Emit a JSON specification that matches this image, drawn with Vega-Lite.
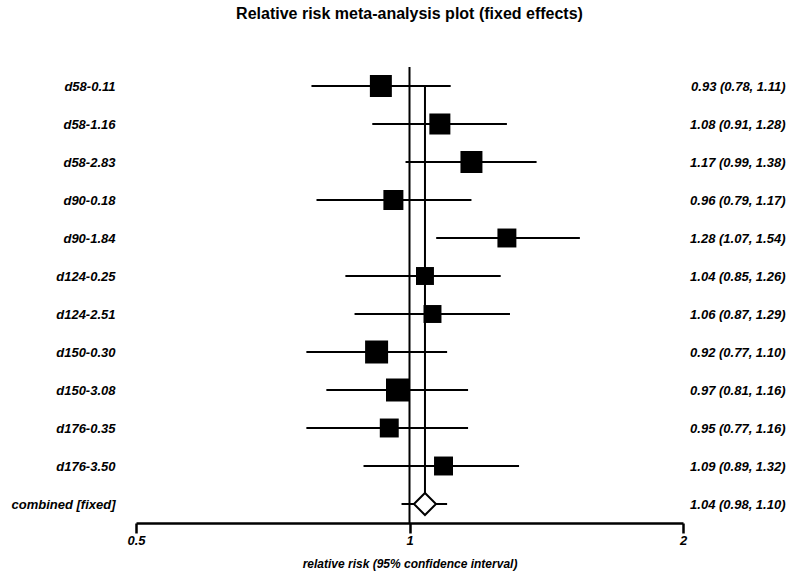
{
  "$schema": "https://vega.github.io/schema/vega-lite/v6.json",
  "width": 547,
  "height": 456,
  "autosize": {"type": "none"},
  "padding": {"left": 136, "top": 67, "right": 104, "bottom": 53},
  "background": "white",
  "title": {
    "text": "Relative risk meta-analysis plot (fixed effects)",
    "font": "Liberation Sans",
    "fontSize": 16,
    "fontWeight": "bold",
    "color": "black",
    "anchor": "middle",
    "baseline": "alphabetic",
    "offset": 31
  },
  "config": {"view": {"stroke": null}},
  "data": {
    "values": [
      {"order": 1, "study": "d58-0.11", "rr": 0.93, "lo": 0.78, "hi": 1.11, "ci": "0.93 (0.78, 1.11)", "weight": 10.5, "kind": "study"},
      {"order": 2, "study": "d58-1.16", "rr": 1.08, "lo": 0.91, "hi": 1.28, "ci": "1.08 (0.91, 1.28)", "weight": 9.6, "kind": "study"},
      {"order": 3, "study": "d58-2.83", "rr": 1.17, "lo": 0.99, "hi": 1.38, "ci": "1.17 (0.99, 1.38)", "weight": 10.5, "kind": "study"},
      {"order": 4, "study": "d90-0.18", "rr": 0.96, "lo": 0.79, "hi": 1.17, "ci": "0.96 (0.79, 1.17)", "weight": 8.7, "kind": "study"},
      {"order": 5, "study": "d90-1.84", "rr": 1.28, "lo": 1.07, "hi": 1.54, "ci": "1.28 (1.07, 1.54)", "weight": 7.8, "kind": "study"},
      {"order": 6, "study": "d124-0.25", "rr": 1.04, "lo": 0.85, "hi": 1.26, "ci": "1.04 (0.85, 1.26)", "weight": 7.0, "kind": "study"},
      {"order": 7, "study": "d124-2.51", "rr": 1.06, "lo": 0.87, "hi": 1.29, "ci": "1.06 (0.87, 1.29)", "weight": 7.0, "kind": "study"},
      {"order": 8, "study": "d150-0.30", "rr": 0.92, "lo": 0.77, "hi": 1.10, "ci": "0.92 (0.77, 1.10)", "weight": 11.5, "kind": "study"},
      {"order": 9, "study": "d150-3.08", "rr": 0.97, "lo": 0.81, "hi": 1.16, "ci": "0.97 (0.81, 1.16)", "weight": 11.5, "kind": "study"},
      {"order": 10, "study": "d176-0.35", "rr": 0.95, "lo": 0.77, "hi": 1.16, "ci": "0.95 (0.77, 1.16)", "weight": 7.8, "kind": "study"},
      {"order": 11, "study": "d176-3.50", "rr": 1.09, "lo": 0.89, "hi": 1.32, "ci": "1.09 (0.89, 1.32)", "weight": 7.8, "kind": "study"},
      {"order": 12, "study": "combined [fixed]", "rr": 1.04, "lo": 0.98, "hi": 1.10, "ci": "1.04 (0.98, 1.10)", "weight": 100, "kind": "pooled"}
    ]
  },
  "layer": [
    {
      "layer": [
        {
          "data": {"values": [{"ref": 1}]},
          "mark": {"type": "rule", "color": "black", "strokeWidth": 2},
          "encoding": {
            "x": {"field": "ref", "type": "quantitative", "scale": {"type": "log", "domain": [0.5, 2], "nice": false}}
          }
        },
        {
          "mark": {"type": "line", "color": "black", "strokeWidth": 2},
          "encoding": {
            "x": {"datum": 1.04, "type": "quantitative", "scale": {"type": "log", "domain": [0.5, 2], "nice": false}},
            "y": {"field": "study", "type": "nominal", "sort": {"field": "order", "op": "min"}},
            "order": {"field": "order", "type": "quantitative"}
          }
        },
        {
          "mark": {"type": "rule", "color": "black", "strokeWidth": 2},
          "encoding": {
            "x": {"field": "lo", "type": "quantitative", "scale": {"type": "log", "domain": [0.5, 2], "nice": false}},
            "x2": {"field": "hi"},
            "y": {
              "field": "study",
              "type": "nominal",
              "sort": {"field": "order", "op": "min"},
              "scale": {"type": "point", "padding": 0.5},
              "axis": {
                "title": null,
                "domain": false,
                "ticks": false,
                "grid": false,
                "labelFont": "Liberation Sans",
                "labelFontSize": 13,
                "labelFontWeight": "bold",
                "labelFontStyle": "italic",
                "labelColor": "black",
                "labelPadding": 21
              }
            }
          }
        }
      ]
    },
    {
      "mark": {"type": "point", "filled": true, "opacity": 1, "fillOpacity": 1},
      "encoding": {
        "x": {
          "field": "rr",
          "type": "quantitative",
          "scale": {"type": "log", "domain": [0.5, 2], "nice": false},
          "axis": {
            "values": [0.5, 1, 2],
            "format": "~g",
            "title": "relative risk (95% confidence interval)",
            "grid": false,
            "domainColor": "black",
            "domainWidth": 2.5,
            "tickColor": "black",
            "tickWidth": 2.5,
            "tickSize": 10,
            "labelFlush": false,
            "labelFont": "Liberation Sans",
            "labelFontSize": 13,
            "labelFontWeight": "bold",
            "labelFontStyle": "italic",
            "labelColor": "black",
            "labelPadding": 1,
            "titleFont": "Liberation Sans",
            "titleFontSize": 12,
            "titleFontWeight": "bold",
            "titleFontStyle": "italic",
            "titleColor": "black",
            "titlePadding": 11
          }
        },
        "y": {
          "field": "ci",
          "type": "nominal",
          "sort": {"field": "order", "op": "min"},
          "scale": {"type": "point", "padding": 0.5},
          "axis": {
            "orient": "right",
            "title": null,
            "domain": false,
            "ticks": false,
            "grid": false,
            "labelAlign": "right",
            "labelFont": "Liberation Sans",
            "labelFontSize": 13,
            "labelFontWeight": "bold",
            "labelFontStyle": "italic",
            "labelColor": "black",
            "labelPadding": 102
          }
        },
        "shape": {"field": "kind", "type": "nominal", "scale": {"domain": ["study", "pooled"], "range": ["square", "diamond"]}, "legend": null},
        "fill": {"field": "kind", "type": "nominal", "scale": {"domain": ["study", "pooled"], "range": ["black", "white"]}, "legend": null},
        "stroke": {"value": "black"},
        "strokeWidth": {"condition": {"test": "datum.kind === 'pooled'", "value": 2}, "value": 0},
        "size": {
          "field": "weight",
          "type": "quantitative",
          "scale": {"domain": [0, 10], "range": [0, 460]},
          "legend": null,
          "condition": {"test": "datum.kind === 'pooled'", "value": 484}
        }
      }
    }
  ],
  "resolve": {"scale": {"y": "independent"}, "axis": {"y": "independent"}}
}
